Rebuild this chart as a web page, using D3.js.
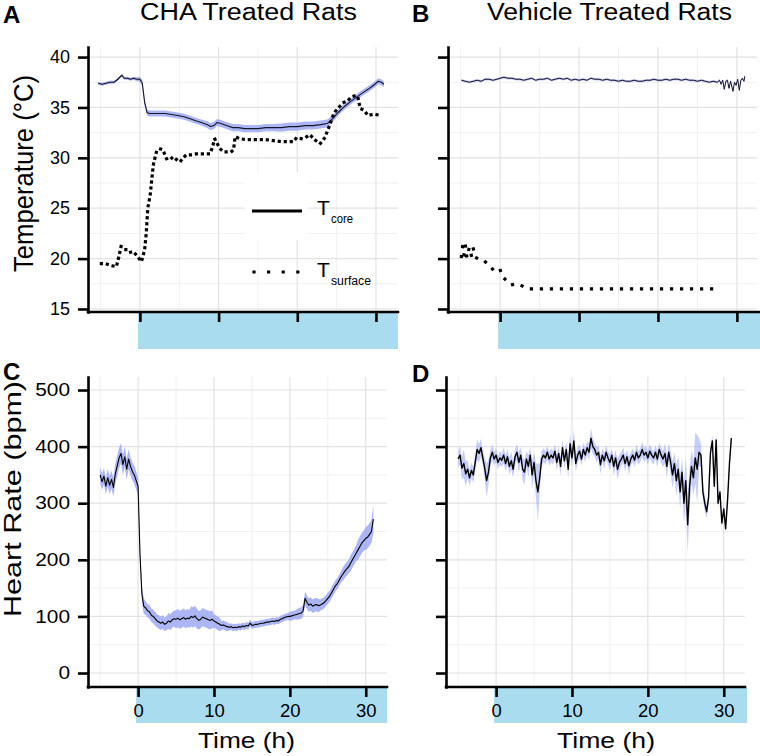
<!DOCTYPE html>
<html>
<head>
<meta charset="utf-8">
<script src="https://cdn.jsdelivr.net/npm/d3@7"></script>
<style>
  body { margin: 0; background: #fff; }
  svg { display: block; }
</style>
</head>
<body>
<svg id="chart" width="760" height="756"></svg>
<script>
// ---- ticks ----
const timeMajor = [0, 10, 20, 30];
const timeMinor = [-5, 5, 15, 25];
const tempMajor = [15, 20, 25, 30, 35, 40];
const tempMinor = [17.5, 22.5, 27.5, 32.5, 37.5];
const hrMajor = [0, 100, 200, 300, 400, 500];
const hrMinor = [50, 150, 250, 350, 450];

// ---- A: CHA temperature ----
const chaCoreTime = [-5.3,-4.8,-4.3,-3.8,-3.3,-2.8,-2.3,-2.0,-1.6,-1.2,-0.8,-0.4,0,0.3,0.6,
  0.9,1.2,1.8,2.5,3.2,4.0,4.8,5.5,6.3,7.0,7.8,8.5,9.0,9.4,9.8,10.3,11.0,11.8,12.5,13.3,
  14.2,15.0,16.0,17.0,18.0,19.0,20.0,21.0,22.0,23.0,23.8,24.5,25.2,26.0,26.8,27.5,28.2,
  29.0,29.7,30.3,30.7,31.0];
const chaCoreTemp = [37.4,37.3,37.4,37.5,37.5,37.8,38.2,37.9,37.9,37.8,37.9,37.8,37.8,37.4,35.5,
  34.5,34.4,34.4,34.4,34.4,34.3,34.2,34.1,33.9,33.7,33.5,33.3,33.1,33.2,33.5,33.4,33.2,33.0,33.0,32.9,
  32.9,32.9,33.0,33.0,33.0,33.1,33.1,33.2,33.2,33.3,33.4,33.9,34.5,35.1,35.6,36.0,36.4,
  36.8,37.2,37.6,37.5,37.3];
const chaCoreSpread = [0.15,0.15,0.15,0.15,0.15,0.15,0.15,0.15,0.15,0.15,0.15,0.2,0.25,0.3,0.3,
  0.3,0.3,0.3,0.3,0.3,0.3,0.3,0.3,0.3,0.3,0.3,0.35,0.35,0.35,0.35,0.35,0.35,0.35,0.35,0.35,
  0.35,0.35,0.35,0.35,0.4,0.4,0.4,0.4,0.4,0.4,0.4,0.35,0.3,0.3,0.3,0.3,0.3,
  0.3,0.3,0.3,0.3,0.3];
const chaSurfTime = [-4.9,-4.4,-3.6,-3.0,-2.7,-2.4,-2.0,-1.7,-1.3,-0.9,-0.5,-0.2,0.2,0.6,0.8,1.0,
  1.3,1.5,1.7,2.1,2.5,2.9,3.4,3.8,4.2,4.7,5.1,5.5,5.9,6.5,7.2,8.0,8.9,9.2,9.5,9.9,10.2,10.6,
  11.0,11.6,11.9,12.1,12.7,13.5,14.5,15.3,16.1,17.0,18.2,19.5,19.9,20.5,21.0,21.6,22.2,22.9,
  23.5,24.1,24.6,25.0,25.4,25.9,26.3,26.7,27.1,27.5,27.7,28.0,28.3,28.6,29.0,29.5,30.0,30.7];
const chaSurfTemp = [19.5,19.5,19.3,19.2,20.1,21.2,20.9,20.9,20.6,20.7,20.4,20.1,19.7,20.9,22.5,25.0,
  26.3,27.8,29.3,30.6,30.9,30.8,29.9,29.8,30.1,29.8,29.6,30.0,30.3,30.3,30.4,30.4,30.4,31.0,31.9,31.3,30.9,30.6,
  30.6,30.6,30.8,32.1,31.9,31.8,31.8,31.8,31.8,31.7,31.6,31.6,32.0,31.9,32.0,32.3,31.8,31.4,
  32.0,33.2,34.3,34.8,35.1,35.5,35.6,35.9,36.1,36.2,36.0,34.9,34.8,34.6,34.2,34.3,34.3,34.2];

// ---- B: vehicle temperature ----
const vehCoreTime = [-4.9,-4.4,-3.9,-3.4,-2.9,-2.4,-1.9,-1.4,-0.9,-0.4,
  0.0,0.5,1.0,1.5,2.0,2.5,3.0,3.5,4.0,4.5, 5.0,5.5,6.0,6.5,7.0,7.5,8.0,8.5,9.0,9.5,
  10.0,10.5,11.0,11.5,12.0,12.5,13.0,13.5,14.0,14.5, 15.0,15.5,16.0,16.5,17.0,17.5,18.0,18.5,19.0,19.5,
  20.0,20.5,21.0,21.5,22.0,22.5,23.0,23.5,24.0,24.5, 25.0,25.5,26.0,26.5,27.0,27.5,27.8,28.0,28.2,28.4,
  28.6,28.8,29.0,29.2,29.5,29.7,29.9,30.1,30.3,30.5, 30.7,30.9,31.0];
const vehCoreTemp = [37.7,37.6,37.5,37.6,37.7,37.6,37.8,37.8,37.7,37.8,
  37.9,38.0,37.9,37.9,37.8,37.8,37.7,37.8,37.9,37.7, 37.8,37.8,37.9,37.7,37.8,37.9,37.8,37.9,37.7,37.8,
  37.7,37.8,37.7,37.9,37.8,37.8,37.7,37.8,37.7,37.7, 37.6,37.7,37.6,37.6,37.7,37.6,37.6,37.7,37.7,37.8,
  37.7,37.7,37.8,37.7,37.8,37.8,37.7,37.8,37.7,37.7, 37.6,37.7,37.6,37.5,37.6,37.5,37.7,37.3,37.7,36.8,
  37.6,37.7,36.9,37.6,36.6,37.5,37.2,37.8,36.7,37.7, 37.9,37.6,38.1];
const vehCoreSpread = 0.12;
const vehSurfTime = [-4.9,-4.75,-4.6,-4.4,-4.2,-3.9,-3.6,-3.4,-3.1,-2.8,-2.5,-2.2,-1.9,-1.6,-1.2,-0.8,
  -0.4,0.0,0.3,0.7,1.1,1.5,2.0,2.5,3.0,3.6,27.2];
const vehSurfTemp = [20.2,21.2,20.3,21.3,20.1,21.1,20.2,21.0,20.1,20.0,19.9,19.9,19.7,19.5,19.2,18.8,
  18.7,18.9,18.2,17.9,17.5,17.4,17.5,17.4,17.2,17.0,17.0];

// ---- C / D: heart rate, sampled every 15 min from -5 h ----
const hrStart = -5, hrStep = 0.25;
const chaHr = [
  350,338,348,330, 345,332,342,328, 352,366,380,388, 368,382,360,378, 365,356,350,340,
  330,210,140,118, 115,110,108,102, 100,96,92,90, 88,90,86,88, 92,90,94,96,
  95,97,94,96, 98,95,97,96, 100,98,101,96, 93,95,99,97, 96,94,93,95,
  92,90,88,86, 84,85,83,82, 81,82,80,81, 80,82,81,83, 82,84,83,88,
  84,85,86,86, 87,88,88,89, 90,90,91,92, 91,93,92,95, 96,98,99,100,
  100,101,102,103, 104,105,106,110, 132,125,120,122, 118,120,121,119, 120,122,124,128,
  132,136,142,148, 154,158,164,170, 175,180,184,188, 194,200,206,212, 218,224,230,234,
  238,240,245,250, 272];
// ribbon half-width for each whole hour, -5 h .. 31 h
const chaHrSpreadByHour = [14,16,18,18,16, 14,12,12,12,14,16,16,18,16,16, 12,8,6,6,6,6,6,6,6,6,
  8,10,12,12,10,10,10,12,14,18,20,25];
const vehHr = [
  378,385,362,370, 352,360,345,358, 350,372,395,388, 398,380,362,340, 355,380,390,378,
  385,372,380,376, 385,370,382,365, 375,360,382,390, 372,385,360,355, 378,365,385,350,
  372,340,320,345, 378,385,380,390, 378,385,380,392, 372,388,365,398, 375,395,360,405,
  380,410,370,385, 392,378,395,385, 398,390,415,400, 395,385,390,368, 385,375,390,380,
  372,385,365,380, 360,372,378,385, 370,382,366,378, 385,376,390,380, 385,395,385,390,
  380,392,385,380, 390,378,395,385, 378,388,365,390, 372,350,370,340, 360,320,355,300,
  340,262,330,365, 345,380,360,390, 385,320,300,285, 310,390,410,330, 412,300,320,265,
  290,255,305,370, 415];
const vehHrSpread = [
  14,16,20,25, 22,16,14,14, 14,14,18,16, 16,14,18,30, 22,14,14,12,
  12,12,12,12, 14,14,14,14, 16,14,14,14, 18,14,20,22, 14,20,14,25,
  18,30,50,25, 14,12,12,12, 12,12,12,12, 14,12,16,14, 14,14,16,18,
  16,20,14,14, 12,12,12,12, 12,14,18,14, 12,14,12,16, 12,14,12,12,
  14,12,16,14, 18,14,12,14, 14,12,16,12, 12,12,14,12, 12,14,12,12,
  12,12,12,12, 12,14,12,14, 14,18,20,16, 20,24,20,28, 24,30,24,35,
  40,50,35,30, 30,45,60,25, 20,14,14,12, 10,10,10,10, 8,8,8,8,
  8,8,8,8, 8];

// ---------------------------------------------------------------
const svg = d3.select('#chart');
const FONT = '"Liberation Sans", Arial, Helvetica, sans-serif';
const timeDomain = [-6.6, 32.8];

function txt(str, x, y, size, opts = {}) {
  const t = svg.append('text')
    .attr('transform', `translate(${x},${y})` + (opts.rotate ? ' rotate(-90)' : ''))
    .attr('font-family', FONT)
    .attr('font-size', size)
    .attr('font-weight', opts.bold ? 'bold' : 'normal')
    .attr('text-anchor', opts.anchor || 'start')
    .attr('fill', '#000')
    .text(str);
  if (opts.len) t.attr('textLength', opts.len).attr('lengthAdjust', 'spacingAndGlyphs');
  return t;
}

function makePanel(p) {
  const x = d3.scaleLinear().domain(timeDomain).range([p.left, p.right]);
  const y = d3.scaleLinear().domain(p.yDomain).range([p.bottom, p.top]);
  const g = svg.append('g');
  const gridRight = p.gridRight || p.right;

  // light period bar
  g.append('rect')
    .attr('x', x(0) - 2).attr('y', p.bottom + 1)
    .attr('width', p.barRight - x(0) + 2).attr('height', p.barH)
    .attr('fill', '#aadcf0');

  // grid
  const grid = g.append('g');
  grid.selectAll('line.vmin').data(timeMinor).join('line')
    .attr('x1', d => x(d)).attr('x2', d => x(d)).attr('y1', p.top).attr('y2', p.bottom)
    .attr('stroke', '#f0f0f0').attr('stroke-width', 1);
  grid.selectAll('line.hmin').data(p.yMinor).join('line')
    .attr('x1', p.left).attr('x2', gridRight).attr('y1', d => y(d)).attr('y2', d => y(d))
    .attr('stroke', '#f0f0f0').attr('stroke-width', 1);
  grid.selectAll('line.vmaj').data(timeMajor).join('line')
    .attr('x1', d => x(d)).attr('x2', d => x(d)).attr('y1', p.top).attr('y2', p.bottom)
    .attr('stroke', '#e2e2e2').attr('stroke-width', 1.2);
  grid.selectAll('line.hmaj').data(p.yMajor).join('line')
    .attr('x1', p.left).attr('x2', gridRight).attr('y1', d => y(d)).attr('y2', d => y(d))
    .attr('stroke', '#e2e2e2').attr('stroke-width', 1.2);

  return { g, x, y, p };
}

function drawAxes(P) {
  const { g, x, y, p } = P;
  const ya = d3.axisLeft(y).tickValues(p.yMajor).tickSize(10).tickSizeOuter(0).tickPadding(8)
    .tickFormat(p.yLabels ? d3.format('d') : '');
  const yg = g.append('g').attr('transform', `translate(${p.left},0)`).call(ya);
  const xa = d3.axisBottom(x).tickValues(timeMajor).tickSize(10).tickSizeOuter(0).tickPadding(7)
    .tickFormat(p.xLabels ? d3.format('d') : '');
  const xg = g.append('g').attr('transform', `translate(0,${p.bottom})`).call(xa);
  xg.select('.domain').attr('d', `M${p.left},0H${p.axisRight || p.right}`);

  [yg, xg].forEach(a => {
    a.attr('font-family', FONT).attr('font-size', null);
    a.select('.domain').attr('stroke', '#000').attr('stroke-width', 2.6).attr('stroke-linecap', 'square');
    a.selectAll('.tick line').attr('stroke', '#000').attr('stroke-width', 2.6);
    a.selectAll('.tick text').attr('fill', '#000');
  });
  yg.selectAll('.tick text').attr('font-size', 17.5)
    .attr('textLength', d => String(d).length * p.digitW).attr('lengthAdjust', 'spacingAndGlyphs');
  xg.selectAll('.tick text').attr('font-size', 18.5);
}

function ribbon(P, pts, fill, op) {
  const area = d3.area().x(d => P.x(d.t)).y0(d => P.y(d.v - d.s)).y1(d => P.y(d.v + d.s));
  P.g.append('path').datum(pts).attr('d', area).attr('fill', fill).attr('fill-opacity', op);
}
function line(P, pts, w, color) {
  const ln = d3.line().x(d => P.x(d.t)).y(d => P.y(d.v));
  return P.g.append('path').datum(pts).attr('d', ln)
    .attr('fill', 'none').attr('stroke', color).attr('stroke-width', w).attr('stroke-linejoin', 'round');
}
function dotted(P, pts, gap) {
  line(P, pts, 3.2, '#000').attr('stroke-dasharray', `0.01,${gap}`).attr('stroke-linecap', 'square');
}

// ---- panels ----
const tempDomain = [14.7, 41.0];
const hrDomain = [-24.7, 523];

const A = makePanel({ left: 88, right: 398, top: 47, bottom: 312, barRight: 398, barH: 36,
  yDomain: tempDomain, yMajor: tempMajor, yMinor: tempMinor, yLabels: true, xLabels: false, digitW: 10 });
const B = makePanel({ left: 448, right: 759, gridRight: 757, axisRight: 760, top: 47, bottom: 312,
  barRight: 760, barH: 36, yDomain: tempDomain, yMajor: tempMajor, yMinor: tempMinor,
  yLabels: false, xLabels: false, digitW: 10 });
const C = makePanel({ left: 88, right: 387, top: 377, bottom: 687, barRight: 387, barH: 35,
  yDomain: hrDomain, yMajor: hrMajor, yMinor: hrMinor, yLabels: true, xLabels: true, digitW: 11.6 });
const D = makePanel({ left: 446, right: 745, top: 377, bottom: 687, barRight: 747, barH: 35,
  yDomain: hrDomain, yMajor: hrMajor, yMinor: hrMinor, yLabels: false, xLabels: true, digitW: 11.6 });

const RIB = '#98a4f2';

// A
const chaCore = chaCoreTime.map((t, i) => ({ t, v: chaCoreTemp[i], s: chaCoreSpread[i] }));
ribbon(A, chaCore, RIB, 0.8);
line(A, chaCore, 1.1, '#15152a');
dotted(A, chaSurfTime.map((t, i) => ({ t, v: chaSurfTemp[i] })), 6);

// legend in A
svg.append('rect').attr('x', 245).attr('y', 172).attr('width', 63).attr('height', 68).attr('fill', '#fff');
svg.append('line').attr('x1', 252).attr('x2', 302).attr('y1', 211).attr('y2', 211)
  .attr('stroke', '#000').attr('stroke-width', 3);
svg.append('line').attr('x1', 254).attr('x2', 298).attr('y1', 272).attr('y2', 272)
  .attr('stroke', '#000').attr('stroke-width', 3.2).attr('stroke-linecap', 'square')
  .attr('stroke-dasharray', '0.01,14.6');
txt('T', 317, 215, 21);
txt('core', 331, 223, 12.5, { len: 22 });
txt('T', 317, 277, 21);
txt('surface', 331, 285, 12.5, { len: 40 });

// B
const vehCore = vehCoreTime.map((t, i) => ({ t, v: vehCoreTemp[i], s: vehCoreSpread }));
ribbon(B, vehCore, RIB, 0.6);
line(B, vehCore, 1.0, '#15152a');
dotted(B, vehSurfTime.map((t, i) => ({ t, v: vehSurfTemp[i] })), 10);

// C
const chaHrPts = chaHr.map((v, i) => {
  const t = hrStart + i * hrStep;
  return { t, v, s: chaHrSpreadByHour[Math.floor(t) - hrStart] };
});
ribbon(C, chaHrPts, RIB, 0.8);
line(C, chaHrPts, 1.1, '#000');

// D
const vehHrPts = vehHr.map((v, i) => ({ t: hrStart + i * hrStep, v, s: vehHrSpread[i] }));
ribbon(D, vehHrPts, RIB, 0.55);
line(D, vehHrPts, 1.4, '#000');

[A, B, C, D].forEach(drawAxes);

// ---- text ----
txt('A', 3, 23, 24, { bold: true });
txt('B', 412, 22, 24, { bold: true });
txt('C', 3, 380, 24, { bold: true });
txt('D', 412, 382, 24, { bold: true });
txt('CHA Treated Rats', 248.5, 20, 23.5, { anchor: 'middle', len: 217 });
txt('Vehicle Treated Rats', 609.5, 20, 23.5, { anchor: 'middle', len: 245 });
txt('Temperature (°C)', 33, 173.5, 28, { anchor: 'middle', rotate: true, len: 197 });
txt('Heart Rate (bpm)', 21, 499, 24, { anchor: 'middle', rotate: true, len: 236 });
txt('Time (h)', 246.5, 748, 22.5, { anchor: 'middle', len: 97 });
txt('Time (h)', 606, 748, 22.5, { anchor: 'middle', len: 98 });
</script>
</body>
</html>
